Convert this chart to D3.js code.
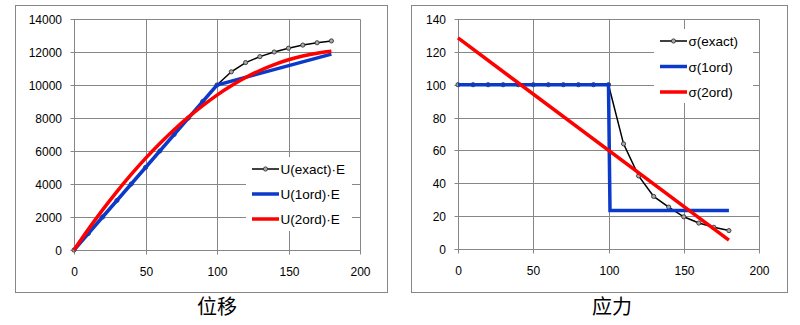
<!DOCTYPE html>
<html>
<head>
<meta charset="utf-8">
<script src="https://cdn.jsdelivr.net/npm/d3@7"></script>
<style>
  html, body { margin: 0; padding: 0; background: #fff; }
  svg { display: block; }
  .tick-label { font-family: "Liberation Sans", Arial, sans-serif; font-size: 12px; fill: #000; }
  .legend-label { font-family: "Liberation Sans", Arial, sans-serif; font-size: 13.5px; fill: #000; }
  .title { font-family: "Noto Sans CJK SC", sans-serif; font-size: 20px; fill: #000; }
</style>
</head>
<body>
<svg id="chart" width="800" height="325"></svg>
<script>
// Sample positions along the bar
const xs = [0, 10, 20, 30, 40, 50, 60, 70, 80, 90, 100, 110, 120, 130, 140, 150, 160, 170, 180];

// Displacement times E
const uExact = [0, 1000, 2000, 3000, 4000, 5000, 6000, 7000, 8000, 9000, 10000,
                10800, 11360, 11720, 12000, 12230, 12420, 12560, 12670];
const u1ordX = [0, 100, 180];
const u1ord  = [0, 10000, 11870];
const u2ord  = [0, 1250, 2430, 3540, 4580, 5550, 6450, 7290, 8050, 8750, 9390,
                9950, 10450, 10880, 11240, 11530, 11760, 11930, 12040];

// Stress
const sExact = [100, 100, 100, 100, 100, 100, 100, 100, 100, 100, 100,
                64, 44.5, 32, 25.5, 19.6, 15.8, 13.2, 11.2];
const s1ordX = [0, 100, 101, 180];
const s1ord  = [100, 100, 23.4, 23.4];
const s2ordX = [0, 180];
const s2ord  = [128.5, 5.4];

// Axis ticks
const xTicks = [0, 50, 100, 150, 200];
const uTicks = [0, 2000, 4000, 6000, 8000, 10000, 12000, 14000];
const sTicks = [0, 20, 40, 60, 80, 100, 120, 140];

const uNames = ["U(exact)\u00b7E", "U(1ord)\u00b7E", "U(2ord)\u00b7E"];
const sNames = ["\u03c3(exact)", "\u03c3(1ord)", "\u03c3(2ord)"];

const GRID = "#878787";
const BLUE = "#0b3acb";
const RED = "#ff0000";
const BLACK = "#000000";
const MARK_FILL = "#a8a8a8";
const MARK_STROKE = "#333";

const svg = d3.select("#chart");

function zip(a, b) { return a.map((v, i) => [v, b[i]]); }

function drawPanel(cfg) {
  const g = svg.append("g");

  // outer frame
  g.append("rect")
    .attr("x", cfg.frame[0] + 0.5).attr("y", cfg.frame[1] + 0.5)
    .attr("width", cfg.frame[2] - cfg.frame[0]).attr("height", cfg.frame[3] - cfg.frame[1])
    .attr("fill", "none").attr("stroke", GRID).attr("stroke-width", 1);

  const x = d3.scaleLinear().domain([0, 200]).range(cfg.xRange);
  const y = d3.scaleLinear().domain([0, cfg.yMax]).range(cfg.yRange);

  const px = v => Math.round(x(v)) + 0.5;
  const py = v => Math.round(y(v)) + 0.5;

  // grid
  const grid = g.append("g").attr("stroke", GRID).attr("stroke-width", 1);
  xTicks.forEach(t => {
    grid.append("line").attr("x1", px(t)).attr("x2", px(t))
      .attr("y1", py(cfg.yMax)).attr("y2", py(0) + 4);
  });
  cfg.yTicks.forEach(t => {
    grid.append("line").attr("x1", px(0) - 4).attr("x2", px(200))
      .attr("y1", py(t)).attr("y2", py(t));
  });

  // tick labels
  g.append("g").selectAll("text").data(cfg.yTicks).join("text")
    .attr("class", "tick-label")
    .attr("x", px(0) - 12.5).attr("y", d => py(d) + 4.3)
    .attr("text-anchor", "end").text(d => d);
  g.append("g").selectAll("text").data(xTicks).join("text")
    .attr("class", "tick-label")
    .attr("x", d => px(d)).attr("y", py(0) + 25)
    .attr("text-anchor", "middle").text(d => d);

  // legend background hides the grid behind it
  const lg = cfg.legend;
  g.append("rect").attr("x", lg.box[0]).attr("y", lg.box[1])
    .attr("width", lg.box[2] - lg.box[0]).attr("height", lg.box[3] - lg.box[1])
    .attr("fill", "#fff");

  const line = d3.line().x(d => x(d[0])).y(d => y(d[1]));
  const smooth = d3.line().x(d => x(d[0])).y(d => y(d[1])).curve(d3.curveMonotoneX);

  const series = cfg.series;

  // exact solution with markers
  g.append("path").datum(series[0]).attr("d", line)
    .attr("fill", "none").attr("stroke", BLACK).attr("stroke-width", 1.5);
  g.append("g").selectAll("circle").data(series[0]).join("circle")
    .attr("cx", d => x(d[0])).attr("cy", d => y(d[1])).attr("r", 2.1)
    .attr("fill", MARK_FILL).attr("stroke", MARK_STROKE).attr("stroke-width", 0.9);

  // first order
  g.append("path").datum(series[1]).attr("d", line)
    .attr("fill", "none").attr("stroke", BLUE).attr("stroke-width", 3.5)
    .attr("stroke-linejoin", "miter");

  // second order
  g.append("path").datum(series[2]).attr("d", smooth)
    .attr("fill", "none").attr("stroke", RED).attr("stroke-width", 3.5);

  // legend entries
  const colors = [BLACK, BLUE, RED];
  const widths = [1.5, 3.5, 3.5];
  cfg.names.forEach((name, i) => {
    const yy = lg.rows[i];
    g.append("line").attr("x1", lg.x0).attr("x2", lg.x1)
      .attr("y1", yy).attr("y2", yy)
      .attr("stroke", colors[i]).attr("stroke-width", widths[i]);
    if (i === 0) {
      g.append("circle").attr("cx", (lg.x0 + lg.x1) / 2).attr("cy", yy).attr("r", 2.1)
        .attr("fill", MARK_FILL).attr("stroke", MARK_STROKE).attr("stroke-width", 0.9);
    }
    g.append("text").attr("class", "legend-label")
      .attr("x", lg.x1 + 1.5).attr("y", yy + 5).text(name);
  });

  // caption
  g.append("text").attr("class", "title")
    .attr("x", cfg.titleX).attr("y", 314)
    .attr("text-anchor", "middle").text(cfg.title);
}

drawPanel({
  frame: [15, 5, 387, 292],
  xRange: [74, 360],
  yRange: [250, 19],
  yMax: 14000,
  yTicks: uTicks,
  names: uNames,
  series: [zip(xs, uExact), zip(u1ordX, u1ord), zip(xs, u2ord)],
  legend: { box: [246, 157, 352, 231], x0: 252, x1: 279, rows: [169, 194, 219] },
  title: "\u4f4d\u79fb",
  titleX: 217
});

drawPanel({
  frame: [411, 5, 787, 292],
  xRange: [458, 759],
  yRange: [249, 19],
  yMax: 140,
  yTicks: sTicks,
  names: sNames,
  series: [zip(xs, sExact), zip(s1ordX, s1ord), zip(s2ordX, s2ord)],
  legend: { box: [654, 29, 753, 103], x0: 660, x1: 687, rows: [41, 66.5, 92] },
  title: "\u5e94\u529b",
  titleX: 612
});
</script>
</body>
</html>
